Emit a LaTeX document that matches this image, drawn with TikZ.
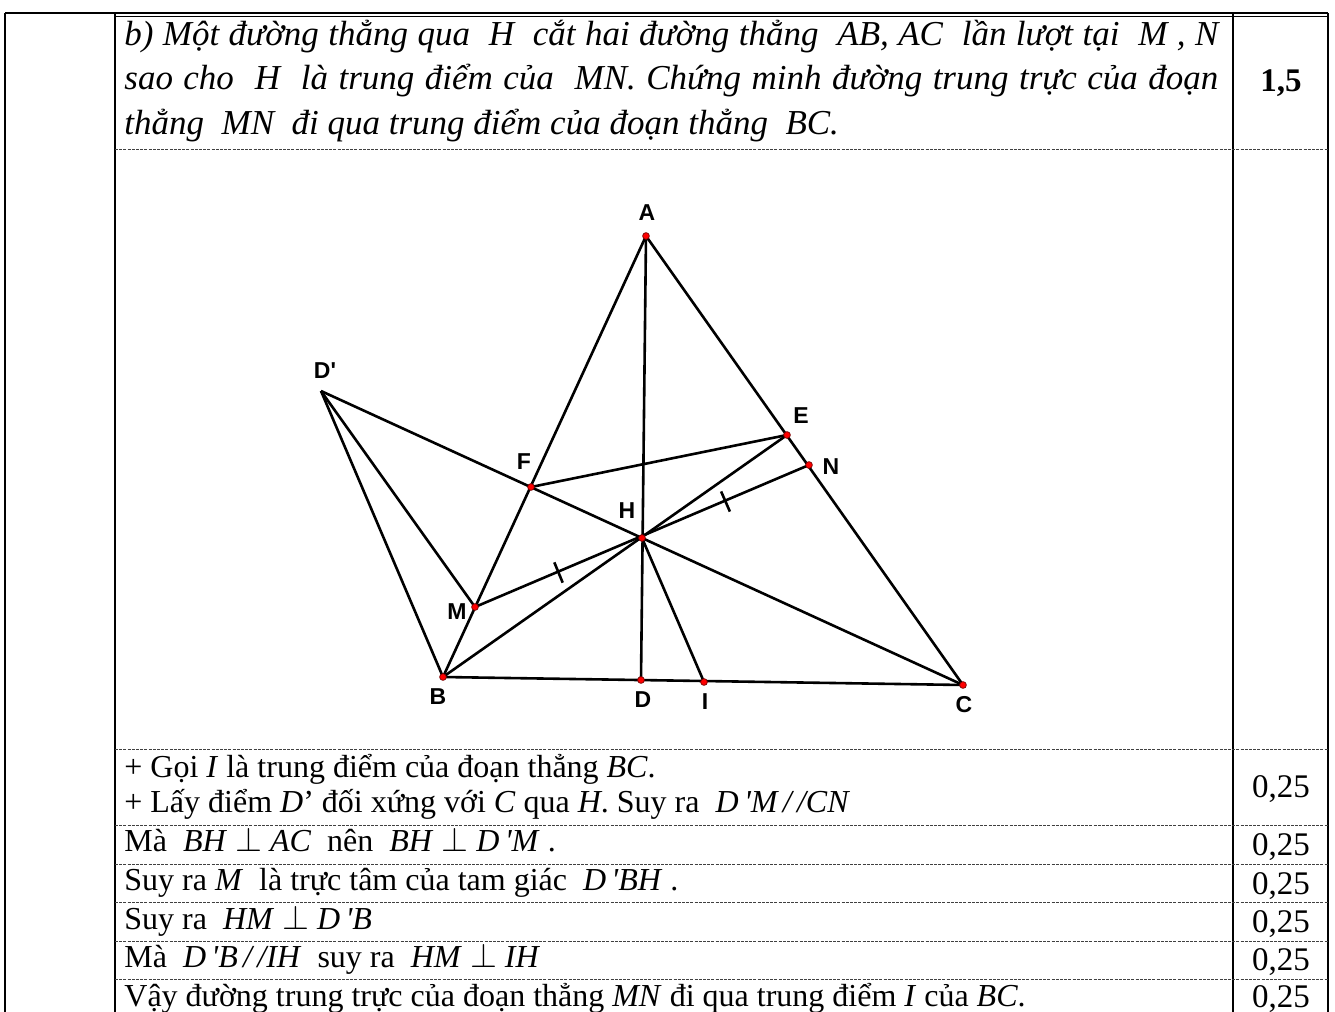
\documentclass[tikz,border=0pt]{standalone}
\usepackage{fontspec}
\setmainfont{Liberation Serif}
\newfontfamily\ptfont{Liberation Sans}
\usepackage{tikz}
\usetikzlibrary{calc}

\begin{document}
\begin{tikzpicture}[line join=round, x=0.5pt, y=-0.5pt,
  seg/.style={line width=1.3pt, black},
  rule/.style={line width=1pt, black},
  dotrule/.style={line width=0.5pt, black!75, dash pattern=on 1.5pt off 0.6pt},
  head/.style={anchor=base west, inner sep=0pt, font=\fontsize{17.5}{21}\selectfont\itshape},
  txt/.style={anchor=base west, inner sep=0pt, font=\fontsize{16}{19}\selectfont},
  scorecell/.style={anchor=base, inner sep=0pt, font=\fontsize{16.5}{19}\selectfont},
  lbl/.style={inner sep=0pt, font=\ptfont\bfseries\fontsize{11.5}{13}\selectfont},
  pt/.style={circle, fill=red, draw=red!45!black, line width=0.35pt, inner sep=0pt, minimum size=3.4pt}]
\useasboundingbox (0,0) rectangle (1335,1012);
\fill[white] (0,0) rectangle (1335,1012);
\draw[rule] (5,13) -- (1328,13);
\draw[line width=0.5pt] (115,16) -- (1328,16);
\draw[rule] (5,13) -- (5,1012);
\draw[rule] (115,13) -- (115,1012);
\draw[rule] (1233,13) -- (1233,1012);
\draw[rule] (1328,13) -- (1328,1012);
\draw[dotrule] (115,149) -- (1328,149);
\draw[dotrule] (115,749) -- (1328,749);
\draw[dotrule] (115,825) -- (1328,825);
\draw[dotrule] (115,864) -- (1328,864);
\draw[dotrule] (115,902) -- (1328,902);
\draw[dotrule] (115,941) -- (1328,941);
\draw[dotrule] (115,979) -- (1328,979);
\node[head] (hdA) at (124,46) {\makebox[547pt][s]{b) Một đường thẳng qua\ \ H\ \ cắt hai đường thẳng\ \ AB, AC\ \ lần lượt tại\ \ M , N}};
\node[head] (hdB) at (124,90) {\makebox[547pt][s]{sao cho\ \ H\ \ là trung điểm của\ \ MN. Chứng minh đường trung trực của đoạn}};
\node[head] (hdC) at (124,134) {thẳng\ \ MN\ \ đi qua trung điểm của đoạn thẳng\ \ BC.};
\node[scorecell] (sc) at (1281,91) {\bfseries 1,5};
\node[txt] (rA) at (124,777) {+ Gọi \textit{I} là trung điểm của đoạn thẳng \textit{BC}.};
\node[txt] (rB) at (124,812) {+ Lấy điểm \textit{D}’ đối xứng với \textit{C} qua \textit{H}. Suy ra\ \ \textit{D\,\textquotesingle M\,/\,/CN}};
\node[txt] (rC) at (124,851) {Mà\ \ \textit{BH} $\perp$ \textit{AC}\ \ nên\ \ \textit{BH} $\perp$ \textit{D\,\textquotesingle M}\ .};
\node[txt] (rD) at (124,890) {Suy ra \textit{M}\ \ là trực tâm của tam giác\ \ \textit{D\,\textquotesingle BH}\ .};
\node[txt] (rE) at (124,929) {Suy ra\ \ \textit{HM} $\perp$ \textit{D\,\textquotesingle B}};
\node[txt] (rF) at (124,967) {Mà\ \ \textit{D\,\textquotesingle B\,/\,/IH}\ \ suy ra\ \ \textit{HM} $\perp$ \textit{IH}};
\node[txt] (rG) at (124,1006) {Vậy đường trung trực của đoạn thẳng \textit{MN} đi qua trung điểm \textit{I} của \textit{BC}.};
\node[scorecell] (sA) at (1281,797) {0,25};
\node[scorecell] (sB) at (1281,855) {0,25};
\node[scorecell] (sC) at (1281,894) {0,25};
\node[scorecell] (sD) at (1281,932) {0,25};
\node[scorecell] (sE) at (1281,970) {0,25};
\node[scorecell] (sF) at (1281,1007) {0,25};
\coordinate (A) at (646,236);
\coordinate (Dp) at (321,391);
\coordinate (E) at (787,435);
\coordinate (N) at (809,465);
\coordinate (F) at (531,487);
\coordinate (H) at (642,538);
\coordinate (M) at (475,607);
\coordinate (B) at (443,677);
\coordinate (D) at (641,680);
\coordinate (I) at (704,682);
\coordinate (C) at (963,685);
\draw[seg] (A) -- (B);
\draw[seg] (A) -- (C);
\draw[seg] (B) -- (C);
\draw[seg] (A) -- (D);
\draw[seg] (B) -- (E);
\draw[seg] (Dp) -- (C);
\draw[seg] (F) -- (E);
\draw[seg] (Dp) -- (B);
\draw[seg] (Dp) -- (M);
\draw[seg] (M) -- (N);
\draw[seg] (H) -- (I);
\coordinate (mh) at ($(M)!0.5!(H)$);
\coordinate (hn) at ($(H)!0.5!(N)$);
\draw[seg] ($(mh)!5.5pt!90:(H)$) -- ($(mh)!5.5pt!-90:(H)$);
\draw[seg] ($(hn)!5.5pt!90:(N)$) -- ($(hn)!5.5pt!-90:(N)$);
\foreach \p in {A,E,N,F,H,M,B,D,I,C} \node[pt] (d\p) at (\p) {};
\node[lbl] (lA) at (647,213) {A};
\node[lbl] (lDp) at (325,371) {D'};
\node[lbl] (lE) at (801,416) {E};
\node[lbl] (lN) at (831,467) {N};
\node[lbl] (lF) at (524,462) {F};
\node[lbl] (lH) at (627,511) {H};
\node[lbl] (lM) at (457,612) {M};
\node[lbl] (lB) at (438,697) {B};
\node[lbl] (lD) at (643,700) {D};
\node[lbl] (lI) at (705,702) {I};
\node[lbl] (lC) at (964,705) {C};
\end{tikzpicture}
\end{document}
